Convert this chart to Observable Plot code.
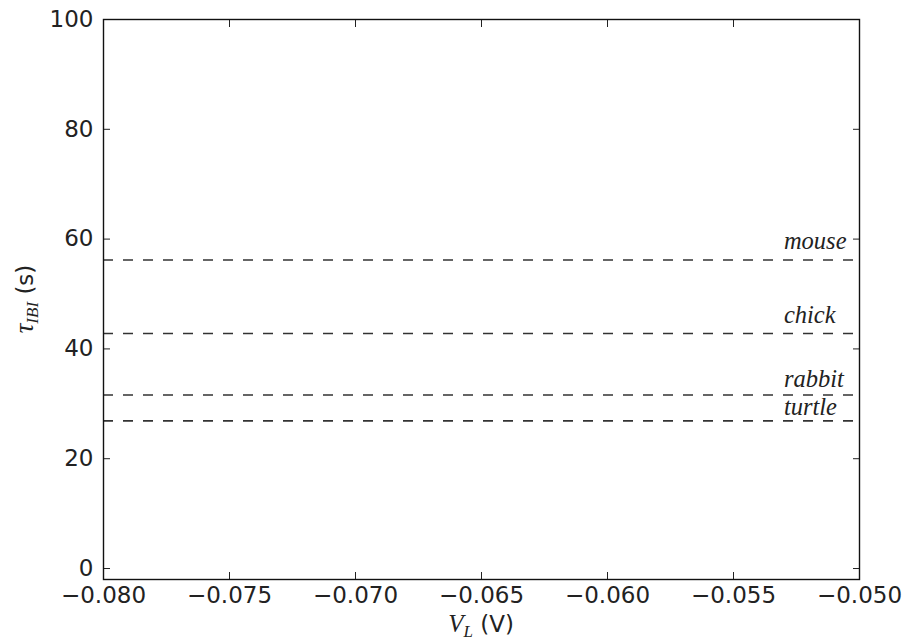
<!DOCTYPE html>
<html><head><meta charset="utf-8">
<script src="https://cdn.jsdelivr.net/npm/d3@7"></script>
<script src="https://cdn.jsdelivr.net/npm/@observablehq/plot@0.6"></script>
<style>body{margin:0;background:#fff}</style>
</head><body><div id="chart"></div>
<script>
const species = ["mouse", "chick", "rabbit", "turtle"];
const tauIBI = [56.2, 42.8, 31.6, 26.9];
const labelTau = [58.2, 44.7, 33.0, 27.9];
const labelV = -0.053;
const xTicks = [-0.080, -0.075, -0.070, -0.065, -0.060, -0.055, -0.050];
const yTicks = [0, 20, 40, 60, 80, 100];
const xDomain = [-0.080, -0.050];
const yDomain = [-2, 100];

const lines = species.map((s, i) => ({species: s, tau: tauIBI[i], labelTau: labelTau[i]}));
const ink = "#222";

const chart = Plot.plot({
  width: 915, height: 640,
  marginLeft: 103, marginRight: 56, marginTop: 19, marginBottom: 61,
  style: {fontFamily: "DejaVu Sans", fontSize: "23px", color: ink, background: "#fff"},
  x: {domain: xDomain},
  y: {domain: yDomain},
  marks: [
    Plot.ruleY(lines, {y: "tau", stroke: "#333", strokeWidth: 1.6, strokeDasharray: "10,10"}),
    Plot.text(lines, {x: () => labelV, y: "labelTau", text: "species", textAnchor: "start",
      lineAnchor: "bottom", fontFamily: "Liberation Serif", fontStyle: "italic", fontSize: 24.5, fill: ink}),
    Plot.axisX({anchor: "bottom", ticks: xTicks, tickSize: 0, tickPadding: 7, tickFormat: d3.format(".3f"), label: null}),
    Plot.axisX({anchor: "bottom", ticks: xTicks, tickSize: -7, tickFormat: () => "", label: null, stroke: ink}),
    Plot.axisX({anchor: "top", ticks: xTicks, tickSize: -7, tickFormat: () => "", label: null, stroke: ink}),
    Plot.axisY({anchor: "left", ticks: yTicks, tickSize: 0, tickPadding: 10, tickFormat: d => String(d), label: null}),
    Plot.axisY({anchor: "left", ticks: yTicks, tickSize: -7, tickFormat: () => "", label: null, stroke: ink}),
    Plot.axisY({anchor: "right", ticks: yTicks, tickSize: -7, tickFormat: () => "", label: null, stroke: ink}),
    Plot.frame({stroke: "#111", strokeWidth: 1.4})
  ]
});

// axis titles with math-style subscripts
const svg = d3.select(chart);
const xs = chart.scale("x").range, ys = chart.scale("y").range;
const xl = svg.append("text")
  .attr("x", (xs[0] + xs[1]) / 2).attr("y", 632)
  .attr("text-anchor", "middle").attr("fill", ink);
xl.append("tspan").attr("font-family", "Liberation Serif").attr("font-style", "italic").attr("font-size", 25).text("V");
xl.append("tspan").attr("font-family", "Liberation Serif").attr("font-style", "italic").attr("font-size", 17).attr("dy", 5).text("L");
xl.append("tspan").attr("font-family", "DejaVu Sans").attr("font-size", 23).attr("dy", -5).text("\u00a0(V)");

const yl = svg.append("text")
  .attr("transform", `translate(33,${(ys[0] + ys[1]) / 2}) rotate(-90)`)
  .attr("text-anchor", "middle").attr("fill", ink);
yl.append("tspan").attr("font-family", "Liberation Serif").attr("font-style", "italic").attr("font-size", 27).text("τ");
yl.append("tspan").attr("font-family", "Liberation Serif").attr("font-style", "italic").attr("font-size", 17).attr("dy", 5).text("IBI");
yl.append("tspan").attr("font-family", "DejaVu Sans").attr("font-size", 23).attr("dy", -5).text("\u00a0(s)");

document.getElementById("chart").append(chart);
</script>
</body></html>
